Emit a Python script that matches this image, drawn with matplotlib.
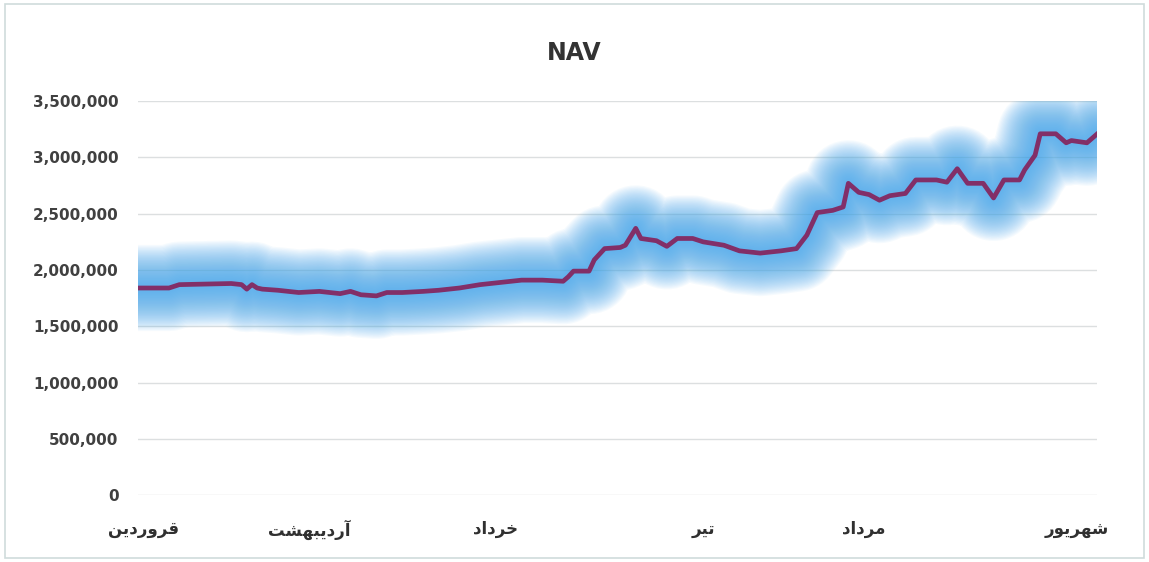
import numpy as np
import matplotlib.pyplot as plt
from matplotlib.patches import Rectangle

# NAV values (day index within the 6 months, value)
days = [0, 6, 8, 18, 20, 21, 22, 23, 24, 27, 31, 35, 39, 41, 43, 46, 48, 51, 55, 58,
        62, 66, 70, 74, 78, 82, 83, 84, 87, 88, 90, 93, 94, 96, 97, 100, 102, 104, 107,
        109, 113, 116, 120, 124, 127, 129, 131, 134, 136, 137, 139, 141, 143, 144, 145,
        148, 150, 154, 156, 158, 160, 163, 165, 167, 170, 171, 173, 174, 177, 179, 180,
        183, 185]
nav = [1840000, 1840000, 1870000, 1880000, 1870000, 1830000, 1870000, 1840000, 1830000,
       1820000, 1800000, 1810000, 1790000, 1810000, 1780000, 1770000, 1800000, 1800000,
       1810000, 1820000, 1840000, 1870000, 1890000, 1910000, 1910000, 1900000, 1940000,
       1990000, 1990000, 2090000, 2190000, 2200000, 2220000, 2370000, 2280000, 2260000,
       2210000, 2280000, 2280000, 2250000, 2220000, 2170000, 2150000, 2170000, 2190000,
       2310000, 2510000, 2530000, 2560000, 2770000, 2690000, 2670000, 2620000, 2640000,
       2660000, 2680000, 2800000, 2800000, 2780000, 2900000, 2770000, 2770000, 2640000,
       2800000, 2800000, 2890000, 3020000, 3210000, 3210000, 3130000, 3150000, 3130000,
       3210000]

month_pos = [1, 33, 69, 109, 140, 181]
month_names = ['قروردین', 'آردیبهشت', 'خرداد', 'تیر', 'مرداد', 'شهریور']
yticks = [0, 500000, 1000000, 1500000, 2000000, 2500000, 3000000, 3500000]

# matplotlib does no Arabic shaping, so map letters to presentation forms by hand
forms = {  # isolated, final, initial, medial
    'ق': ('\uFED5', '\uFED6', '\uFED7', '\uFED8'),
    'ر': ('\uFEAD', '\uFEAE', None, None),
    'و': ('\uFEED', '\uFEEE', None, None),
    'د': ('\uFEA9', '\uFEAA', None, None),
    'ی': ('\uFBFC', '\uFBFD', '\uFBFE', '\uFBFF'),
    'ن': ('\uFEE5', '\uFEE6', '\uFEE7', '\uFEE8'),
    'آ': ('\uFE81', '\uFE82', None, None),
    'ا': ('\uFE8D', '\uFE8E', None, None),
    'ب': ('\uFE8F', '\uFE90', '\uFE91', '\uFE92'),
    'ه': ('\uFEE9', '\uFEEA', '\uFEEB', '\uFEEC'),
    'ش': ('\uFEB5', '\uFEB6', '\uFEB7', '\uFEB8'),
    'ت': ('\uFE95', '\uFE96', '\uFE97', '\uFE98'),
    'خ': ('\uFEA5', '\uFEA6', '\uFEA7', '\uFEA8'),
    'م': ('\uFEE1', '\uFEE2', '\uFEE3', '\uFEE4'),
}


def shape(word):
    out = []
    for i, ch in enumerate(word):
        f = forms[ch]
        prev_joins = i > 0 and forms[word[i - 1]][2] is not None
        next_ok = i < len(word) - 1 and f[2] is not None
        if prev_joins and next_ok:
            out.append(f[3])
        elif prev_joins:
            out.append(f[1])
        elif next_ok:
            out.append(f[2])
        else:
            out.append(f[0])
    return ''.join(reversed(out))


fig = plt.figure(figsize=(11.49, 5.62), dpi=100)
ax = fig.add_axes([0.12, 0.119, 0.835, 0.701])

# soft blue glow under the line, many thin alpha layers to avoid banding
glow = '#4aaaec'
for lw in np.linspace(62, 6, 32):
    ax.plot(days, nav, color=glow, lw=lw, alpha=0.052, solid_capstyle='round',
            solid_joinstyle='round')
ax.plot(days, nav, color='#822f68', lw=3.4, solid_joinstyle='round')

ax.set_xlim(0, 185)
ax.set_ylim(0, 3500000)
ax.set_yticks(yticks)
ax.set_yticklabels([f'{v:,}' for v in yticks])
ax.set_xticks(month_pos)
ax.set_xticklabels([shape(m) for m in month_names])
ax.tick_params(axis='y', length=0, pad=14, labelsize=11, labelcolor='#404040')
ax.tick_params(axis='x', length=0, pad=18, labelsize=12, labelcolor='#303030')
for lab in ax.get_xticklabels() + ax.get_yticklabels():
    lab.set_fontweight('bold')
ax.grid(axis='y', color='#dcdfe0', lw=1)
ax.set_axisbelow(True)
for s in ax.spines.values():
    s.set_visible(False)

fig.text(0.5, 0.905, 'NAV', ha='center', va='center', fontsize=17, fontweight='bold', color='#333333')
fig.patches.append(Rectangle((0.004, 0.008), 0.992, 0.984, transform=fig.transFigure,
                             fill=False, edgecolor='#cfdcdc', lw=1.2))

fig.savefig('out.png', dpi=100)
